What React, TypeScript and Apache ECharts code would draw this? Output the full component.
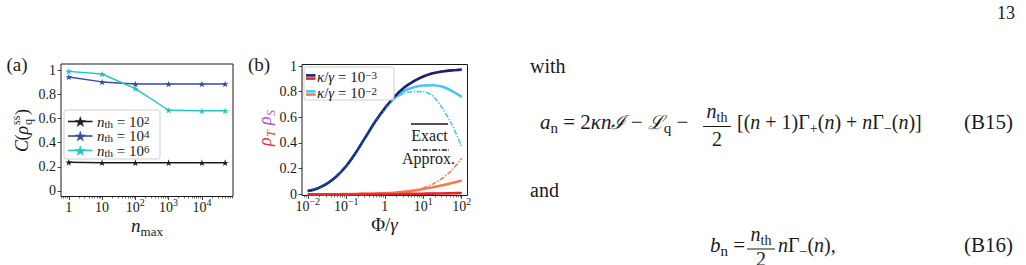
import React, { useEffect, useRef } from "react";
import * as echarts from "echarts";

const FONT = '"Liberation Serif", "DejaVu Serif", serif';
const INK = "#1a1a1a";

// ---------- Panel (a) data ----------
const nMax = [1, 10, 100, 1000, 10000, 50000];
const cohNth1e2 = [0.237, 0.234, 0.234, 0.234, 0.234, 0.234];
const cohNth1e4 = [0.946, 0.905, 0.888, 0.888, 0.888, 0.888];
const cohNth1e6 = [0.993, 0.971, 0.85, 0.67, 0.665, 0.665];
const aXTickExp = [0, 1, 2, 3, 4];
const aXTickLabels = ["1", "10", "10{s|2}", "10{s|3}", "10{s|4}"];
const aYTicks = [0, 0.2, 0.4, 0.6, 0.8, 1];
const aYTickLabels = ["0", "0.2", "0.4", "0.6", "0.8", "1"];
const aLegend = ["2", "4", "6"];

// ---------- Panel (b) data ----------
const phiOverGamma = [0.01, 0.0178, 0.0316, 0.0562, 0.1, 0.178, 0.316, 0.562, 1, 1.78, 3.16, 5.62, 10, 17.8, 31.6, 56.2, 100];
const rhoSk3Exact = [0.025, 0.045, 0.082, 0.14, 0.22, 0.325, 0.445, 0.565, 0.67, 0.76, 0.83, 0.88, 0.918, 0.943, 0.957, 0.966, 0.971];
const rhoSk3Approx = [0.025, 0.045, 0.082, 0.14, 0.22, 0.325, 0.445, 0.565, 0.67, 0.762, 0.833, 0.884, 0.921, 0.946, 0.96, 0.969, 0.975];
const rhoSk2Exact = [0.025, 0.045, 0.082, 0.14, 0.22, 0.325, 0.445, 0.565, 0.665, 0.75, 0.805, 0.835, 0.848, 0.85, 0.838, 0.805, 0.76];
const rhoSk2Approx = [0.025, 0.045, 0.082, 0.14, 0.22, 0.325, 0.445, 0.565, 0.662, 0.745, 0.785, 0.8, 0.8, 0.765, 0.67, 0.54, 0.37];
const rhoTk3Exact = [0, 0, 0, 0, 0, 0, 0.001, 0.001, 0.001, 0.002, 0.002, 0.003, 0.004, 0.005, 0.006, 0.008, 0.01];
const rhoTk3Approx = [0, 0, 0, 0, 0, 0, 0.001, 0.001, 0.001, 0.002, 0.002, 0.003, 0.004, 0.005, 0.007, 0.009, 0.012];
const rhoTk2Exact = [0, 0, 0, 0, 0.001, 0.002, 0.003, 0.005, 0.008, 0.012, 0.018, 0.028, 0.041, 0.055, 0.07, 0.088, 0.107];
const rhoTk2Approx = [0, 0, 0, 0, 0.001, 0.002, 0.003, 0.005, 0.008, 0.012, 0.019, 0.031, 0.05, 0.08, 0.125, 0.19, 0.28];
const bXTickExp = [-2, -1, 0, 1, 2];
const bXTickLabels = ["10{s|−2}", "10{s|−1}", "1", "10{s|1}", "10{s|2}"];
const bYTicks = [0, 0.2, 0.4, 0.6, 0.8, 1];
const bYTickLabels = ["0", "0.2", "0.4", "0.6", "0.8", "1"];
const bLegend = ["−3", "−2"];

// ---------- colours ----------
const C_BLACK = "#1c1c1c";
const C_BLUE = "#3a4ba2";
const C_CYAN = "#22c4bd";
const C_NAVY = "#1d2273";
const C_RED = "#e4262e";
const C_LBLUE = "#4cc4f2";
const C_ORANGE = "#f47a50";
const C_RHOT = "#e8334a";
const C_RHOS = "#b050c0";

const STAR =
  "path://M0,-10L2.245,-3.09L9.511,-3.09L3.633,1.18L5.878,8.09L0,3.82L-5.878,8.09L-3.633,1.18L-9.511,-3.09L-2.245,-3.09Z";

function starPts(cx: number, cy: number, R: number) {
  const pts: number[][] = [];
  for (let k = 0; k < 10; k++) {
    const r = k % 2 === 0 ? R : R * 0.382;
    const a = -Math.PI / 2 + (k * Math.PI) / 5;
    pts.push([cx + r * Math.cos(a), cy + r * Math.sin(a)]);
  }
  return pts;
}

function mathRich(size: number, color = INK, lh = 1.3) {
  const L = Math.round(size * lh);
  const s = Math.round(size * 0.7);
  const sl = Math.round(s * 0.75);
  const base = { fontFamily: FONT, fill: color, color };
  return {
    r: { ...base, fontSize: size, lineHeight: L, verticalAlign: "middle" },
    i: { ...base, fontSize: size, fontStyle: "italic", lineHeight: L, verticalAlign: "middle" },
    sub: { ...base, fontSize: s, lineHeight: sl, verticalAlign: "bottom" },
    sup: { ...base, fontSize: s, lineHeight: sl, verticalAlign: "top" },
    cal: { ...base, fontFamily: '"DejaVu Serif", serif', fontStyle: "italic", fontSize: size * 0.92, lineHeight: L, verticalAlign: "middle" },
  };
}

function txt(x: number, y: number, text: string, size: number, align = "left", color = INK, lh = 1.3) {
  return {
    type: "text",
    x,
    y,
    silent: true,
    z: 100,
    style: {
      text,
      align,
      textAlign: align,
      verticalAlign: "middle",
      textVerticalAlign: "middle",
      fontFamily: FONT,
      fontSize: size,
      fill: color,
      rich: mathRich(size, color, lh),
    },
  };
}

function hline(x1: number, x2: number, y: number, color = INK, width = 1, dash?: number[]) {
  return {
    type: "line",
    silent: true,
    z: 100,
    shape: { x1, y1: y, x2, y2: y },
    style: { stroke: color, lineWidth: width, lineDash: dash },
  };
}

const tickRich = {
  b: { fontFamily: FONT, fontSize: 14, lineHeight: 17, verticalAlign: "bottom", color: INK },
  s: { fontFamily: FONT, fontSize: 10, lineHeight: 8, verticalAlign: "top", color: INK },
};

function labelFrom(ticks: number[], labels: string[], rich: boolean) {
  return (v: number) => {
    const i = ticks.findIndex((t) => Math.abs(t - v) < 1e-6);
    if (i < 0) return "";
    if (!rich) return labels[i];
    const l = labels[i];
    const m = l.match(/^([^{]*)(\{s\|.*\})?$/);
    return m && m[2] ? "{b|" + m[1] + "}" + m[2] : "{b|" + l + "}";
  };
}

function minorTicks(lo: number, hi: number) {
  const out: number[] = [];
  for (let d = Math.floor(lo) - 1; d <= Math.ceil(hi); d++) {
    for (let k = 2; k <= 9; k++) {
      const v = d + Math.log10(k);
      if (v > lo && v < hi) out.push(v);
    }
  }
  return out;
}

const A_XMIN = -0.235, A_XMAX = 4.935;
const B_XMIN = -2.15, B_XMAX = 2.15;

function xAxes(grid: number, min: number, max: number, ticks: number[], labels: string[]) {
  return [
    {
      type: "value", gridIndex: grid, position: "bottom", min, max,
      axisLine: { show: false, onZero: false }, splitLine: { show: false },
      axisTick: { show: true, inside: false, length: 3.5, customValues: ticks, lineStyle: { color: INK, width: 0.8 } },
      axisLabel: { show: true, margin: 1, customValues: ticks, formatter: labelFrom(ticks, labels, true), rich: tickRich, color: INK },
    },
    {
      type: "value", gridIndex: grid, position: "bottom", min, max,
      axisLine: { show: false, onZero: false }, splitLine: { show: false },
      axisTick: { show: true, inside: false, length: 2, customValues: minorTicks(min, max), lineStyle: { color: INK, width: 0.6 } },
      axisLabel: { show: false },
    },
  ];
}

function yAxis(grid: number, min: number, max: number, ticks: number[], labels: string[]) {
  return {
    type: "value", gridIndex: grid, position: "left", min, max,
    axisLine: { show: false, onZero: false }, splitLine: { show: false },
    axisTick: { show: true, inside: false, length: 3.5, customValues: ticks, lineStyle: { color: INK, width: 0.8 } },
    axisLabel: { show: true, margin: 5, customValues: ticks, formatter: labelFrom(ticks, labels, false), fontFamily: FONT, fontSize: 14, color: INK },
  };
}

export default function App() {
  const ref = useRef<HTMLDivElement>(null);
  useEffect(() => {
    if (!ref.current) return;
    const chart = echarts.init(ref.current, undefined, { renderer: "svg" });

    const toA = (ys: number[]) => nMax.map((n, i) => [Math.log10(n), ys[i]]);
    const toB = (ys: number[]) => phiOverGamma.map((p, i) => [Math.log10(p), ys[i]]);

    const aSeries = [
      [cohNth1e2, C_BLACK],
      [cohNth1e4, C_BLUE],
      [cohNth1e6, C_CYAN],
    ].map(([d, c]: any) => ({
      type: "line", xAxisIndex: 0, yAxisIndex: 0, data: toA(d),
      symbol: STAR, symbolSize: 7, symbolKeepAspect: true, showSymbol: true,
      lineStyle: { color: c, width: 1.4 }, itemStyle: { color: c }, z: 3,
    }));

    const exact = (d: number[], c: string, z: number) => ({
      type: "line", xAxisIndex: 2, yAxisIndex: 1, data: toB(d), smooth: 0.3,
      showSymbol: false, lineStyle: { color: c, width: 2.6 }, z,
    });
    const approx = (d: number[], c: string, z: number) => ({
      type: "line", xAxisIndex: 2, yAxisIndex: 1, data: toB(d), smooth: 0.3,
      showSymbol: false, lineStyle: { color: c, width: 1.6, type: [5, 1.6, 1.4, 1.6] }, z,
    });
    const bSeries = [
      exact(rhoSk2Exact, C_LBLUE, 2),
      exact(rhoTk2Exact, C_ORANGE, 2),
      exact(rhoSk3Exact, C_NAVY, 3),
      exact(rhoTk3Exact, C_RED, 3),
      approx(rhoSk2Approx, C_LBLUE, 4),
      approx(rhoTk2Approx, C_ORANGE, 4),
      approx(rhoSk3Approx, C_NAVY, 4),
      approx(rhoTk3Approx, C_RED, 4),
    ];

    // legend (a)
    const aColors = [C_BLACK, C_BLUE, C_CYAN];
    const aLegY = [121.5, 136, 150.5];
    const legendA: any[] = [
      { type: "rect", z: 90, silent: true, shape: { x: 64, y: 110, width: 96, height: 49, r: 2 }, style: { fill: "rgba(255,255,255,0.85)", stroke: "#cfcfcf", lineWidth: 1 } },
    ];
    aLegend.forEach((e, i) => {
      legendA.push(hline(68, 92.5, aLegY[i], aColors[i], 1.6));
      legendA.push({ type: "polygon", z: 101, silent: true, shape: { points: starPts(80.3, aLegY[i] + 0.6, 5.4) }, style: { fill: aColors[i], stroke: aColors[i], lineWidth: 0.5 } });
      legendA.push(txt(97, aLegY[i], "{i|n}{sub|th}{r| = 10}{sup|" + e + "}", 15, "left", INK, 1.0));
    });

    // legend (b)
    const bTop = [C_NAVY, C_LBLUE];
    const bBot = [C_RED, C_ORANGE];
    const bLegY = [77, 93];
    const legendB: any[] = [
      { type: "rect", z: 90, silent: true, shape: { x: 304, y: 67, width: 90, height: 33, r: 2.5 }, style: { fill: "rgba(255,255,255,0.85)", stroke: "#cfcfcf", lineWidth: 1 } },
    ];
    bLegend.forEach((e, i) => {
      legendB.push(hline(306, 315.5, bLegY[i] - 1.6, bTop[i], 2.6));
      legendB.push(hline(306, 315.5, bLegY[i] + 1.6, bBot[i], 2.6));
      legendB.push(txt(317, bLegY[i], "{i|κ}{r|/}{i|γ}{r| = 10}{sup|" + e + "}", 15, "left", INK, 1.0));
    });

    const yLabelA = {
      type: "group", x: 22, y: 130, rotation: Math.PI / 2, silent: true,
      children: [
        txt(-22, 0, "{i|C}", 18),
        txt(-10.5, 0, "{r|(}", 18),
        txt(-4.5, 0, "{i|ρ}", 18),
        txt(5, -6.5, "{r|ss}", 12),
        txt(5, 5.5, "{r|q}", 12),
        txt(15, 0, "{r|)}", 18),
      ],
    };
    const yLabelB = {
      type: "group", x: 265, y: 126, rotation: Math.PI / 2, silent: true,
      children: [
        txt(-20, 0, "{i|ρ}", 18, "left", C_RHOT),
        txt(-11, 5.5, "{i|T}", 12, "left", C_RHOT),
        txt(1, 0, "{i|ρ}", 18, "left", C_RHOS),
        txt(10, 5.5, "{i|S}", 12, "left", C_RHOS),
      ],
    };

    const page: any[] = [
      txt(1015, 12.5, "{r|13}", 18, "right"),
      txt(17, 64, "{r|(a)}", 19, "center"),
      txt(259, 64, "{r|(b)}", 19, "center"),
      txt(147, 225, "{i|n}{sub|max}", 19, "center"),
      txt(384.5, 224, "{r|Φ/}{i|γ}", 19, "center"),
      txt(429.5, 135, "{r|Exact}", 16, "center"),
      hline(411, 448, 124, INK, 1.6),
      txt(428.5, 158.5, "{r|Approx.}", 16, "center"),
      hline(413, 449, 150, INK, 1.6, [5, 1.6, 1.4, 1.6]),
      txt(530, 66, "{r|with}", 20),
      txt(540, 122, "{i|a}{sub|n}{r| = 2}{i|κn}{cal|ℐ}{r| − }{cal|ℒ}{sub|q}{r| − }", 21),
      txt(717, 111, "{i|n}{sub|th}", 20, "center"),
      hline(703, 731, 126.5, INK, 1),
      txt(717, 139, "{r|2}", 20, "center"),
      txt(737, 122, "{r|[(}{i|n}{r| + 1)Γ}{sub|+}{r|(}{i|n}{r|) + }{i|n}{r|Γ}{sub|−}{r|(}{i|n}{r|)]}", 20),
      txt(1013, 122, "{r|(B15)}", 21, "right"),
      txt(530, 190, "{r|and}", 20),
      txt(710, 245, "{i|b}{sub|n}{r| = }", 21),
      txt(761, 234, "{i|n}{sub|th}", 20, "center"),
      hline(747, 775, 249, INK, 1),
      txt(761, 258.5, "{r|2}", 20, "center", INK, 0.9),
      txt(778, 245, "{i|n}{r|Γ}{sub|−}{r|(}{i|n}{r|),}", 20),
      txt(1013, 245, "{r|(B16)}", 21, "right"),
    ];

    chart.setOption({
      animation: false,
      backgroundColor: "#ffffff",
      grid: [
        { left: 61, top: 64, width: 172, height: 132.5, show: true, borderColor: INK, borderWidth: 1, backgroundColor: "transparent" },
        { left: 302, top: 64.5, width: 165.5, height: 131, show: true, borderColor: INK, borderWidth: 1, backgroundColor: "transparent" },
      ],
      xAxis: [
        ...xAxes(0, A_XMIN, A_XMAX, aXTickExp, aXTickLabels),
        ...xAxes(1, B_XMIN, B_XMAX, bXTickExp, bXTickLabels),
      ],
      yAxis: [
        yAxis(0, -0.047, 1.054, aYTicks, aYTickLabels),
        yAxis(1, -0.01, 1.012, bYTicks, bYTickLabels),
      ],
      series: [...aSeries, ...bSeries],
      graphic: { elements: [...legendA, ...legendB, yLabelA, yLabelB, ...page] },
    });
    return () => chart.dispose();
  }, []);
  return <div ref={ref} style={{ position: "absolute", left: 0, top: 0, width: 1026, height: 265 }} />;
}
